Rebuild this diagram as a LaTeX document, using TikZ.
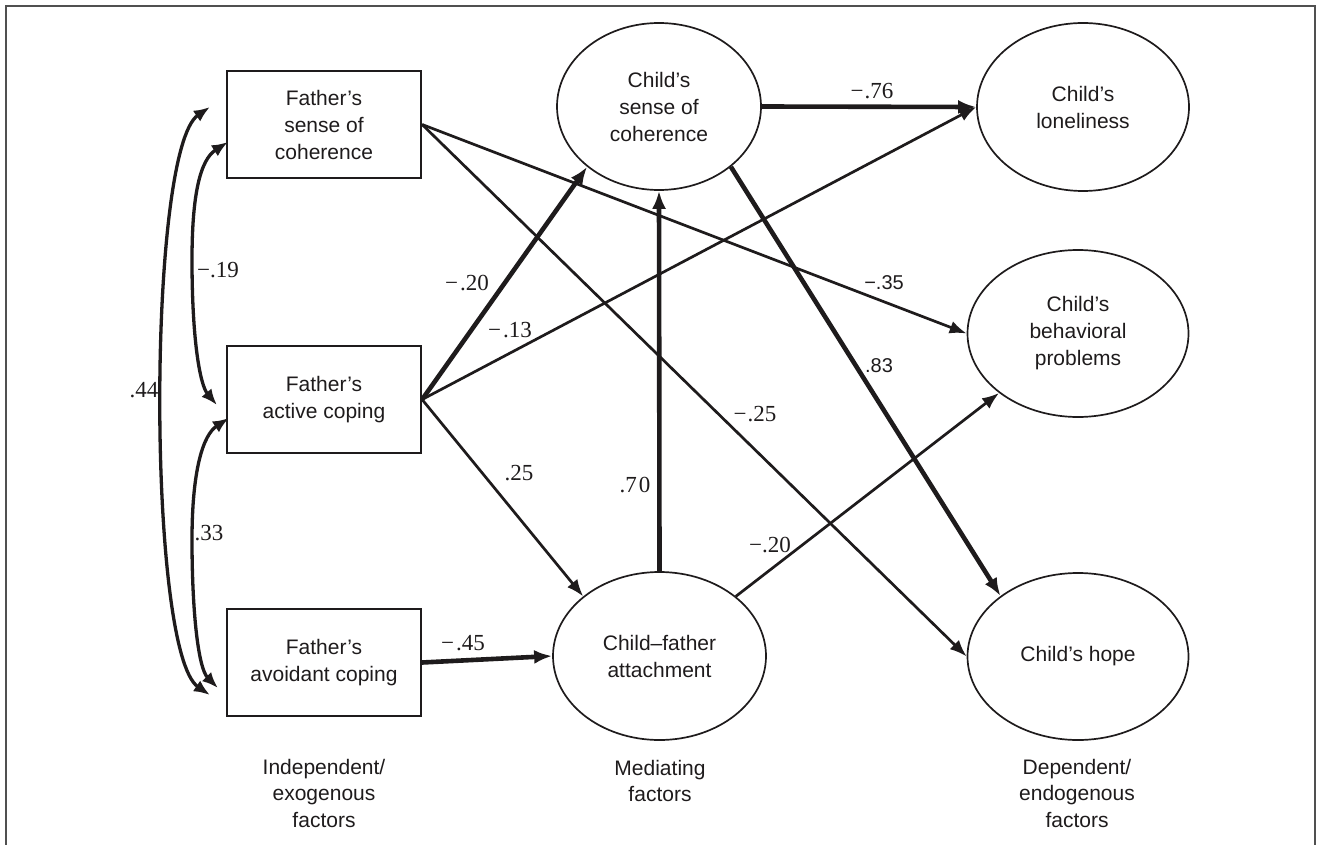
\documentclass[tikz,border=0pt]{standalone}
\usepackage{fontspec}
\setmainfont{Liberation Serif}
\newfontfamily\arialf{Liberation Sans}
\usetikzlibrary{arrows.meta,shapes.geometric}
\definecolor{ink}{RGB}{30,27,28}
\definecolor{framegray}{RGB}{80,80,80}
\begin{document}
\begin{tikzpicture}[x=1pt,y=-1pt,
  rectbox/.style={draw=ink, line width=2.2pt, minimum width=194pt, minimum height=107pt, inner sep=0pt, align=center, text=ink, font=\arialf\fontsize{21}{27}\selectfont},
  oval/.style={draw=ink, ellipse, line width=1.7pt, inner sep=0pt, align=center, text=ink, font=\arialf\fontsize{21}{27}\selectfont},
  pa/.style={draw=ink, line width=2.7pt, -{Latex[length=17pt,width=13pt]}},
  pb/.style={draw=ink, line width=4.6pt, -{Latex[length=18pt,width=14pt]}},
  pc/.style={draw=ink, line width=3.3pt, {Latex[length=16pt,width=13pt]}-{Latex[length=16pt,width=13pt]}},
  coef/.style={text=ink, inner sep=0pt, font=\fontsize{23}{27}\selectfont},
  coefs/.style={text=ink, inner sep=0pt, font=\arialf\fontsize{20}{24}\selectfont},
  caption/.style={text=ink, inner sep=0pt, align=center, font=\arialf\fontsize{21}{26.5}\selectfont}
]
\useasboundingbox (0,0) rectangle (1317,845);
\draw[framegray, line width=1.7pt] (6,845) -- (6,6) -- (1315,6) -- (1315,845);

% exogenous boxes
\node[rectbox] (fsoc) at (324,124.5) {Father’s\\sense of\\coherence};
\node[rectbox] (fac) at (324,399.5) {Father’s\\active coping};
\node[rectbox] (favoid) at (324,662.5) {Father’s\\avoidant coping};

% mediators
\node[oval, minimum width=204pt, minimum height=167pt] (csoc) at (659,106.5) {Child’s\\sense of\\coherence};
\node[oval, minimum width=213pt, minimum height=168pt] (att) at (659.5,656) {Child–father\\attachment};

% outcomes
\node[oval, minimum width=212pt, minimum height=168pt] (lon) at (1083,107) {Child’s\\loneliness};
\node[oval, minimum width=221pt, minimum height=167pt] (beh) at (1078,333.5) {Child’s\\behavioral\\problems};
\node[oval, minimum width=221pt, minimum height=167pt] (hope) at (1078,656.5) {Child’s hope};

% captions
\node[caption] (capa) at (324,793) {Independent/\\exogenous\\factors};
\node[caption] (capb) at (660,781) {Mediating\\factors};
\node[caption] (capc) at (1077,793) {Dependent/\\endogenous\\factors};

% paths
\draw[pa] (fsoc.east) -- (beh.west);
\draw[pa] (fsoc.east) -- (hope.west);
\draw[pb] (fac.east) -- (csoc.220.4);
\draw[pa] (fac.east) -- (lon.west);
\draw[pa] (fac.east) -- (att.142.4);
\draw[pb] (favoid.east) -- (att.west);
\draw[pb] (att.north) -- (csoc.south);
\draw[pa] (att.38.4) -- (beh.217.5);
\draw[pb] (csoc.320) -- (hope.142.2);
\draw[pb] (csoc.east) -- (lon.west);

% correlations
\draw[pc] ([xshift=-16pt,yshift=17.5pt]fsoc.west) .. controls (147,150) and (147,652) .. ([xshift=-16pt,yshift=-32.5pt]favoid.west);
\draw[pc] ([xshift=2pt,yshift=-17.5pt]fsoc.west) .. controls (200,160) and (192,195) .. (192,260) .. controls (192,340) and (200,385) .. ([xshift=-9pt,yshift=-5.5pt]fac.west);
\draw[pc] ([xshift=3pt,yshift=-18.5pt]fac.west) .. controls (203,435) and (192,470) .. (192,540) .. controls (192,610) and (198,668) .. ([xshift=-8pt,yshift=-25.5pt]favoid.west);

% coefficients
\node[coef] (c44) at (144,390) {.44};
\node[coef] (c19) at (218,270) {−.19};
\node[coef] (c33) at (209,533) {.33};
\node[coef] (c20a) at (467,283) {−\kern2pt.20};
\node[coef] (c13) at (510,330) {−\kern2pt.13};
\node[coef] (c25a) at (519,473) {.25};
\node[coef] (c70) at (635,485) {.7\kern2pt0};
\node[coef] (c45) at (463,643) {−\kern2pt.45};
\node[coef] (c20b) at (770,545) {−.20};
\node[coef] (c25b) at (755,414) {−\kern1pt.25};
\node[coefs] (c35) at (884,283) {−.35};
\node[coefs] (c83) at (879,366) {.83};
\node[coef] (c76) at (872,91) {−\kern1pt.76};
\end{tikzpicture}
\end{document}
